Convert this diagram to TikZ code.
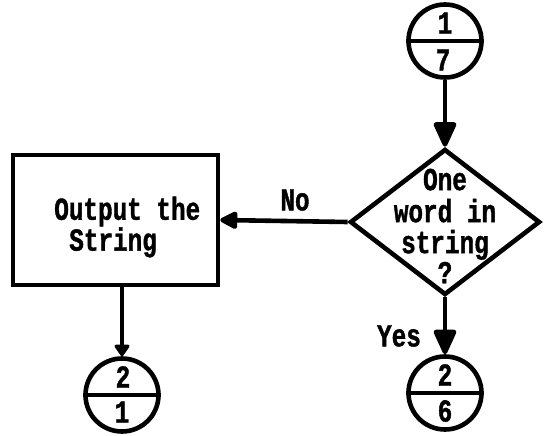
\documentclass[tikz,border=0pt]{standalone}
\usepackage{fontspec}
\usetikzlibrary{shapes.geometric,arrows.meta}
\newfontfamily\tw{Liberation Mono}[FakeStretch=0.76,FakeBold=1.2]
\begin{document}
\begin{tikzpicture}[x=1pt,y=-1pt,
  line width=4.6pt,
  every node/.style={font=\tw\bfseries\fontsize{32}{25}\selectfont, inner sep=0pt},
  procbox/.style={draw, rectangle, minimum width=205pt, minimum height=130pt},
  decide/.style={draw, diamond, minimum width=190pt, minimum height=146pt},
  conn/.style={draw, circle, minimum size=73pt},
  flow/.style={-{Triangle[length=28pt,width=24pt,round]}},
  smallflow/.style={-{Triangle[length=20pt,width=19pt,round]}},
  tinyflow/.style={-{Triangle[length=13pt,width=17pt,round]}}]
\useasboundingbox (0,0) rectangle (544,436);

% process box
\node[procbox] (out) at (115.5,220) {};
\node[align=left, anchor=west] (outtxt) at (52,227) {Output the\\\hspace*{15pt}String};

% decision
\node[decide] (dec) at (445,222) {};
\node[align=center] (dectxt) at (445,226) {One\\[7pt]word in\\[6pt]string\\[1pt]?};

% connectors (off-page references)
\node[conn] (c17) at (445,41) {};
\draw (c17.west) -- (c17.east);
\node (c17a) at (445,23) {1};
\node (c17b) at (443,60) {7};

\node[conn] (c26) at (445,393) {};
\draw (c26.west) -- (c26.east);
\node (c26a) at (445,375) {2};
\node (c26b) at (445,411) {6};

\node[conn] (c21) at (122,395) {};
\draw (c21.west) -- (c21.east);
\node (c21a) at (123,377) {2};
\node (c21b) at (122,412) {1};

% flow lines
\draw[flow] (c17.south) -- (dec.north);
\draw[flow] (dec.south) -- (c26.north);
\draw[smallflow] (dec.west) -- (out.east);
\draw[tinyflow] (c21.north |- out.south) -- (c21.north);

% branch labels
\node (no) at (295,200) {No};
\node (yes) at (399,336) {Yes};
\end{tikzpicture}
\end{document}
